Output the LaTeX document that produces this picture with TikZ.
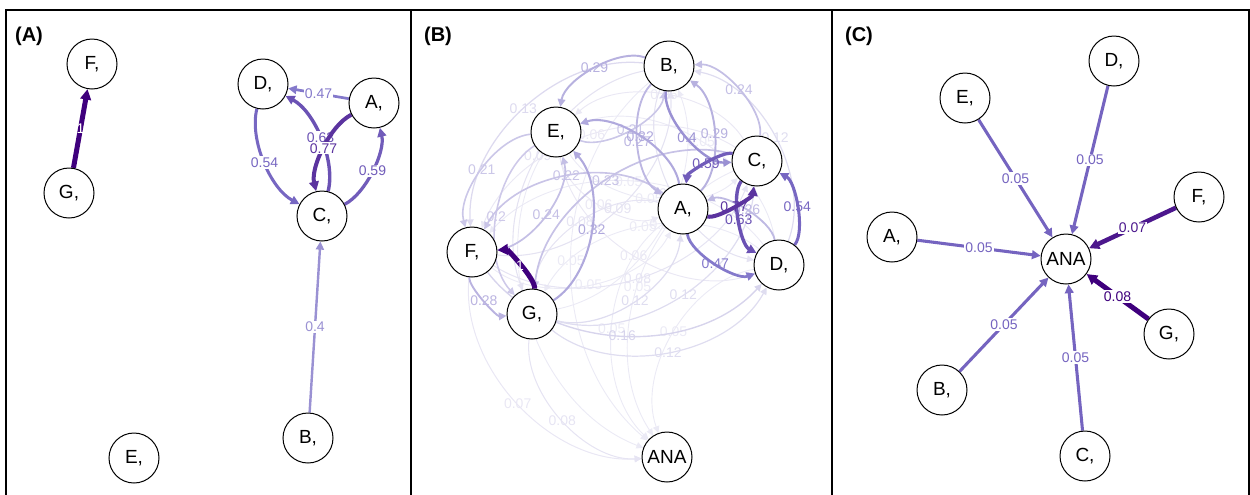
\documentclass[tikz,border=0pt]{standalone}
\usepackage{fontspec}
\setmainfont{Liberation Sans}
\usetikzlibrary{arrows.meta,calc}
\pgfdeclarelayer{edges}
\pgfsetlayers{edges,main}
\definecolor{plight}{HTML}{F1F0F7}
\definecolor{pmid}{HTML}{7B6FC7}
\definecolor{pdark}{HTML}{3F007D}
\colorlet{ecol}{pmid}
\tikzset{
  vtx/.style={circle,draw=black,line width=0.5pt,fill=white,minimum size=25pt,inner sep=0pt,font=\fontsize{9.5}{10}\selectfont},
  ew/.code={%
    \pgfmathsetmacro\ewlw{0.35+2.15*#1}%
    \ifdim #1pt<0.5pt
      \pgfmathtruncatemacro\ewpc{100*(2*#1)^1.3}%
      \colorlet{ecol}{pmid!\ewpc!plight}%
    \else
      \pgfmathtruncatemacro\ewpc{200*(#1-0.5)}%
      \colorlet{ecol}{pdark!\ewpc!pmid}%
    \fi
    \pgfkeysalso{draw=ecol,line width=\ewlw pt,-{Triangle[length=3pt 0.9,width=2.8pt 1]}}},
  lab/.style={font=\fontsize{7}{7}\selectfont,text=ecol,inner sep=0.6pt},
  labw/.style={lab,fill=white},
  ptitle/.style={font=\bfseries\fontsize{10}{10}\selectfont,inner sep=0pt},
  frame/.style={line width=1pt,draw=black},
}
% arc edge (panel B): [label style]{from}{to}{weight}{label}
\newcommand\arcE[5][lab]{%
  \draw[ew=#4] (#2) .. controls ($(#2)!0.41!-50:(#3)$) and ($(#3)!0.41!50:(#2)$) .. (#3) node[midway,#1]{#5};}
% fanned edge (panel A), gentler
\newcommand\fanE[5][labw]{%
  \draw[ew=#4] (#2) .. controls ($(#2)!0.40!-38:(#3)$) and ($(#3)!0.40!38:(#2)$) .. (#3) node[midway,#1]{#5};}
\newcommand\strE[5][labw]{%
  \draw[ew=#4] (#2) -- (#3) node[midway,#1]{#5};}
\begin{document}
\begin{tikzpicture}[x=0.5pt,y=-0.5pt]
\useasboundingbox (0,0) rectangle (1250,494);
% frames
\draw[frame] (6,520) -- (6,10) -- (1248.5,10) -- (1248.5,520);
\draw[frame] (411,10) -- (411,520);
\draw[frame] (832,10) -- (832,520);
\node[ptitle] (tA) at (29,36) {(A)};
\node[ptitle] (tB) at (438,36) {(B)};
\node[ptitle] (tC) at (859,36) {(C)};

% ---------- Panel A ----------
\node[vtx] (aF) at (92,64) {F,};
\node[vtx] (aG) at (69,193) {G,};
\node[vtx] (aD) at (263,84) {D,};
\node[vtx] (aA) at (374,103) {A,};
\node[vtx] (aC) at (322,216) {C,};
\node[vtx] (aB) at (308,438) {B,};
\node[vtx] (aE) at (134,458) {E,};
\begin{pgfonlayer}{edges}
\strE{aB}{aC}{0.4}{0.4}
\strE{aA}{aD}{0.47}{0.47}
\fanE{aD}{aC}{0.54}{0.54}
\fanE{aC}{aA}{0.59}{0.59}
\fanE{aC}{aD}{0.63}{0.63}
\fanE{aA}{aC}{0.77}{0.77}
\strE[lab]{aG}{aF}{1}{\color{white}1}
\end{pgfonlayer}

% ---------- Panel B ----------
\node[vtx] (bB) at (669,66) {B,};
\node[vtx] (bE) at (556,132) {E,};
\node[vtx] (bC) at (757,161) {C,};
\node[vtx] (bA) at (683,209) {A,};
\node[vtx] (bF) at (472,252) {F,};
\node[vtx] (bD) at (779,265) {D,};
\node[vtx] (bG) at (532,314) {G,};
\node[vtx] (bANA) at (667,457) {ANA};
\begin{pgfonlayer}{edges}
\arcE{bF}{bA}{0.05}{0.05}
\arcE{bG}{bB}{0.05}{0.05}
\arcE{bE}{bC}{0.05}{0.05}
\arcE{bD}{bE}{0.05}{0.05}
\arcE{bD}{bF}{0.05}{0.05}
\arcE{bD}{bG}{0.05}{0.05}
\arcE{bA}{bANA}{0.05}{0.05}
\arcE{bB}{bANA}{0.05}{0.05}
\arcE{bC}{bANA}{0.05}{0.05}
\arcE{bD}{bANA}{0.05}{0.05}
\arcE{bE}{bANA}{0.05}{0.05}
\arcE{bE}{bA}{0.06}{0.06}
\arcE{bC}{bE}{0.06}{0.06}
\arcE{bC}{bF}{0.06}{0.06}
\arcE{bE}{bD}{0.06}{0.06}
\arcE{bF}{bANA}{0.07}{0.07}
\arcE{bA}{bG}{0.08}{0.08}
\arcE{bF}{bC}{0.08}{0.08}
\arcE{bG}{bANA}{0.08}{0.08}
\arcE{bB}{bD}{0.09}{0.09}
\arcE{bF}{bB}{0.09}{0.09}
\arcE{bB}{bG}{0.09}{0.09}
\arcE{bG}{bA}{0.12}{0.12}
\arcE{bD}{bB}{0.12}{0.12}
\arcE{bG}{bC}{0.12}{0.12}
\arcE{bG}{bD}{0.12}{0.12}
\arcE{bB}{bF}{0.13}{0.13}
\arcE{bF}{bD}{0.16}{0.16}
\arcE{bE}{bG}{0.2}{0.2}
\arcE{bE}{bB}{0.21}{0.21}
\arcE{bE}{bF}{0.21}{0.21}
\arcE{bA}{bF}{0.22}{0.22}
\arcE{bC}{bG}{0.23}{0.23}
\arcE{bC}{bB}{0.24}{0.24}
\arcE{bF}{bE}{0.24}{0.24}
\arcE{bD}{bA}{0.26}{0.26}
\arcE{bB}{bA}{0.27}{0.27}
\arcE{bF}{bG}{0.28}{0.28}
\arcE{bA}{bB}{0.29}{0.29}
\arcE{bB}{bE}{0.29}{0.29}
\arcE{bA}{bE}{0.32}{0.32}
\arcE{bG}{bE}{0.32}{0.32}
\arcE{bB}{bC}{0.4}{0.4}
\arcE{bA}{bD}{0.47}{0.47}
\arcE{bD}{bC}{0.54}{0.54}
\arcE{bC}{bA}{0.59}{0.59}
\arcE{bC}{bD}{0.63}{0.63}
\arcE{bA}{bC}{0.77}{0.77}
\arcE{bG}{bF}{1}{\color{white}1}
\end{pgfonlayer}

% ---------- Panel C ----------
\node[vtx] (cD) at (1114,61) {D,};
\node[vtx] (cE) at (965,98) {E,};
\node[vtx] (cF) at (1199,197) {F,};
\node[vtx] (cA) at (892,237) {A,};
\node[vtx] (cANA) at (1066,259) {ANA};
\node[vtx] (cG) at (1169,334) {G,};
\node[vtx] (cB) at (942,390) {B,};
\node[vtx] (cC) at (1085,456) {C,};
\begin{pgfonlayer}{edges}
\strE{cE}{cANA}{0.55}{0.05}
\strE{cD}{cANA}{0.55}{0.05}
\strE{cA}{cANA}{0.55}{0.05}
\strE{cB}{cANA}{0.55}{0.05}
\strE{cC}{cANA}{0.55}{0.05}
\strE{cF}{cANA}{0.9}{0.07}
\strE{cG}{cANA}{1}{0.08}
\end{pgfonlayer}
\end{tikzpicture}
\end{document}
